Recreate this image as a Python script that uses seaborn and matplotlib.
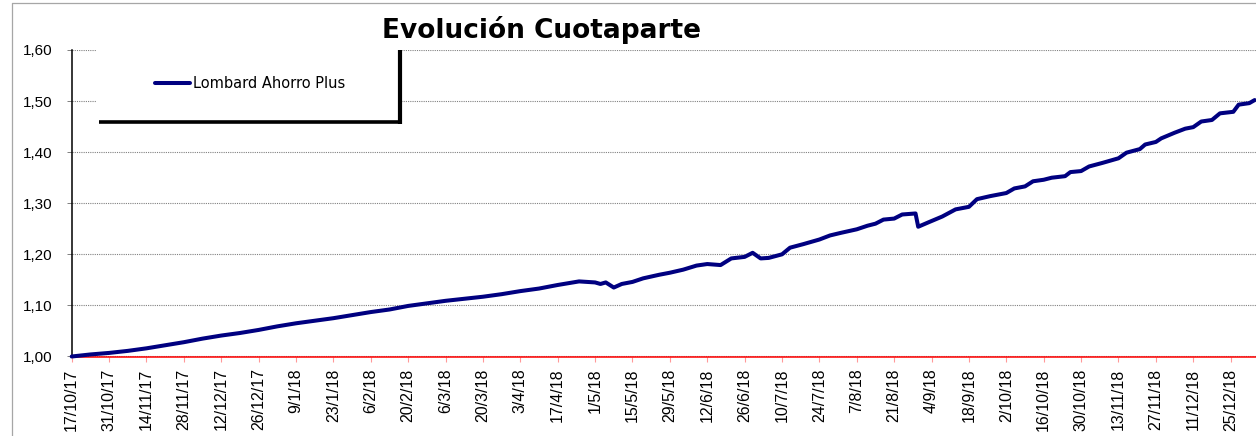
import matplotlib
matplotlib.use('Agg')
import matplotlib.pyplot as plt
from matplotlib.lines import Line2D
from matplotlib.patches import Rectangle
import seaborn as sns
import pandas as pd

# ---------------- data ----------------
title = "Evolución Cuotaparte"
series_name = "Lombard Ahorro Plus"

dates = [
    "2017-10-17", "2017-10-24", "2017-10-31", "2017-11-07", "2017-11-14", "2017-11-21",
    "2017-11-28", "2017-12-05", "2017-12-12", "2017-12-19", "2017-12-26", "2018-01-02",
    "2018-01-09", "2018-01-16", "2018-01-23", "2018-01-30", "2018-02-06", "2018-02-13",
    "2018-02-20", "2018-02-27", "2018-03-06", "2018-03-13", "2018-03-20", "2018-03-27",
    "2018-04-03", "2018-04-10", "2018-04-17", "2018-04-25", "2018-05-01", "2018-05-03",
    "2018-05-05", "2018-05-08", "2018-05-11", "2018-05-15", "2018-05-19", "2018-05-25",
    "2018-05-29", "2018-06-03", "2018-06-08", "2018-06-12", "2018-06-17", "2018-06-21",
    "2018-06-26", "2018-06-29", "2018-07-02", "2018-07-05", "2018-07-10", "2018-07-13",
    "2018-07-18", "2018-07-24", "2018-07-28", "2018-08-01", "2018-08-07", "2018-08-11",
    "2018-08-14", "2018-08-17", "2018-08-21", "2018-08-24", "2018-08-29", "2018-08-30",
    "2018-09-03", "2018-09-08", "2018-09-13", "2018-09-18", "2018-09-21", "2018-09-26",
    "2018-10-02", "2018-10-05", "2018-10-09", "2018-10-12", "2018-10-16", "2018-10-19",
    "2018-10-24", "2018-10-26", "2018-10-30", "2018-11-02", "2018-11-07", "2018-11-13",
    "2018-11-16", "2018-11-21", "2018-11-23", "2018-11-27", "2018-11-29", "2018-12-04",
    "2018-12-08", "2018-12-11", "2018-12-14", "2018-12-18", "2018-12-21", "2018-12-26",
    "2018-12-28", "2019-01-01", "2019-01-03",
]
values = [
    1.000, 1.004, 1.007, 1.011, 1.016, 1.022,
    1.028, 1.035, 1.041, 1.046, 1.052, 1.059,
    1.065, 1.070, 1.075, 1.081, 1.087, 1.092,
    1.099, 1.104, 1.109, 1.113, 1.117, 1.122,
    1.128, 1.133, 1.140, 1.147, 1.145, 1.142,
    1.145, 1.135, 1.142, 1.146, 1.153, 1.160,
    1.164, 1.170, 1.178, 1.181, 1.179, 1.192,
    1.195, 1.203, 1.192, 1.193, 1.200, 1.213,
    1.220, 1.229, 1.237, 1.242, 1.249, 1.256,
    1.260, 1.268, 1.270, 1.278, 1.280, 1.254,
    1.263, 1.274, 1.288, 1.293, 1.308, 1.314,
    1.320, 1.329, 1.333, 1.343, 1.346, 1.350,
    1.353, 1.361, 1.363, 1.372, 1.379, 1.388,
    1.399, 1.406, 1.415, 1.420, 1.427, 1.438,
    1.446, 1.449, 1.460, 1.463, 1.476, 1.479,
    1.493, 1.496, 1.502,
]

x_tick_labels = [
    "17/10/17", "31/10/17", "14/11/17", "28/11/17", "12/12/17", "26/12/17",
    "9/1/18", "23/1/18", "6/2/18", "20/2/18", "6/3/18", "20/3/18", "3/4/18",
    "17/4/18", "1/5/18", "15/5/18", "29/5/18", "12/6/18", "26/6/18", "10/7/18",
    "24/7/18", "7/8/18", "21/8/18", "4/9/18", "18/9/18", "2/10/18", "16/10/18",
    "30/10/18", "13/11/18", "27/11/18", "11/12/18", "25/12/18",
]
y_ticks = [1.00, 1.10, 1.20, 1.30, 1.40, 1.50, 1.60]
y_tick_labels = ["1,00", "1,10", "1,20", "1,30", "1,40", "1,50", "1,60"]

# ---------------- style ----------------
sns.set_style("white")
plt.rcParams['font.family'] = ['Liberation Sans', 'DejaVu Sans']

W, H = 1256, 436
fig = plt.figure(figsize=(W / 100, H / 100), dpi=100)


def fx(px):
    return px / W


def fy(py):
    return 1 - py / H


ax_left, ax_top, ax_bottom = 71.7, 50.0, 356.5
ax = fig.add_axes([fx(ax_left), fy(ax_bottom), 1 - fx(ax_left), fy(ax_top) - fy(ax_bottom)])

df = pd.DataFrame({"Fecha": pd.to_datetime(dates), "Cuotaparte": values})
sns.lineplot(data=df, x="Fecha", y="Cuotaparte", ax=ax, color="#000080",
             linewidth=2.9, label=series_name, zorder=3, clip_on=False)

start = pd.to_datetime(x_tick_labels[0], format="%d/%m/%y")
ax.set_xlim(start, start + pd.Timedelta(days=443.5))
ax.set_ylim(y_ticks[0], y_ticks[-1])

tick_pos = pd.to_datetime(x_tick_labels, format="%d/%m/%y")
ax.set_xticks(tick_pos)
ax.set_xticklabels(x_tick_labels, rotation=90)
ax.set_yticks(y_ticks)
ax.set_yticklabels(y_tick_labels)
ax.set_xlabel("")
ax.set_ylabel("")

ax.yaxis.grid(True, linestyle=(0, (1, 1)), color="#808080", linewidth=0.8)
ax.xaxis.grid(False)

for s in ("top", "right"):
    ax.spines[s].set_visible(False)
ax.spines["left"].set_color("black")
ax.spines["left"].set_linewidth(1.1)
ax.spines["bottom"].set_color("#ff0000")
ax.spines["bottom"].set_linewidth(1.1)

ax.tick_params(axis="y", left=True, length=3.6, width=0.7, color="#808080",
               direction="out", pad=10, labelsize=11, labelcolor="black")
ax.tick_params(axis="x", bottom=True, length=3.6, width=0.8, color="#ff9999",
               direction="out", pad=5, labelsize=11.5, labelcolor="black")

# legend box (white area + dark shadow lines)
rect = Rectangle((fx(96), fy(121)), fx(400) - fx(96), fy(48) - fy(121),
                 transform=fig.transFigure, facecolor="white", edgecolor="none",
                 zorder=4, clip_on=False)
ax.add_patch(rect)
ax.add_line(Line2D([fx(99.3), fx(401.7)], [fy(122.3), fy(122.3)], transform=fig.transFigure,
                   color="black", linewidth=2.6, solid_capstyle="butt", zorder=4.5, clip_on=False))
ax.add_line(Line2D([fx(399.5), fx(399.5)], [fy(50), fy(124)], transform=fig.transFigure,
                   color="black", linewidth=3.0, solid_capstyle="butt", zorder=4.5, clip_on=False))

leg = ax.legend(loc="center left", bbox_to_anchor=(fx(155), fy(84)),
                bbox_transform=fig.transFigure, frameon=False, borderpad=0,
                borderaxespad=0, handlelength=2.4, handletextpad=0.2,
                prop={"family": "DejaVu Sans", "size": 10.5})
leg.set_zorder(6)
for t in leg.get_texts():
    t.set_color("black")

# title
fig.text(fx(541.5), fy(38.3), title, ha="center", va="baseline",
         fontsize=19, fontweight="bold", family="DejaVu Sans", color="black")

# chart area border (top and left visible)
fig.add_artist(Line2D([fx(11.7), 1], [fy(3.3), fy(3.3)], transform=fig.transFigure,
                      color="#a6a6a6", linewidth=0.9))
fig.add_artist(Line2D([fx(11.7), fx(11.7)], [fy(3.3), 0], transform=fig.transFigure,
                      color="#a6a6a6", linewidth=0.9))

fig.savefig("out.png", dpi=100)
